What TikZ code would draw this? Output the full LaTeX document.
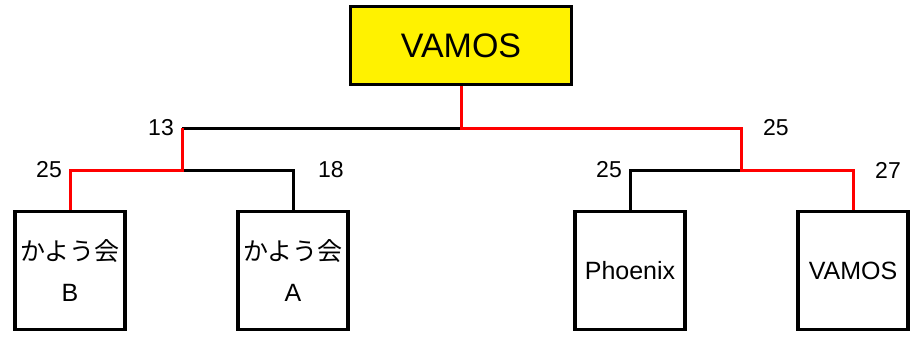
\documentclass[tikz,border=0pt]{standalone}
\usepackage{fontspec}
\setmainfont{Liberation Sans}
\newfontfamily\jpfont{Noto Sans CJK JP}
\usetikzlibrary{positioning}

\tikzset{
  team/.style={draw, line width=3.2pt, minimum width=110pt, minimum height=118pt,
               align=center, inner sep=0pt, font=\fontsize{25}{41}\selectfont},
  champ/.style={draw, fill=yellow, line width=3.2pt, minimum width=221pt, minimum height=78pt,
               inner sep=0pt, font=\fontsize{34}{40}\selectfont},
  win/.style={draw=red, line width=3pt},
  lose/.style={draw=black, line width=3pt},
  score/.style={inner sep=0pt, font=\fontsize{23}{27}\selectfont}
}

\begin{document}
\begin{tikzpicture}[x=1pt,y=-1pt]
  \useasboundingbox (0,0) rectangle (918,340);
  % boxes
  \node[champ](top) at (461,45.5) {VAMOS};
  \node[team](kyB) at (70,270.5) {{\jpfont かよう会}\\B};
  \node[team](kyA) at (293,270.5) {{\jpfont かよう会}\\A};
  \node[team](phx) at (630,270.5) {Phoenix};
  \node[team](vms) at (853,270.5) {VAMOS};
  % joints
  \coordinate (fin) at (461,128);
  \coordinate (semiL) at (182,128);
  \coordinate (semiR) at (741,128);
  \coordinate (midL) at (182,170);
  \coordinate (midR) at (741,170);
  \coordinate (qB) at (70,170);
  \coordinate (qA) at (293,170);
  \coordinate (qP) at (630,170);
  \coordinate (qV) at (853,170);
  % lines
  \draw[lose] (fin) -- (semiL);
  \draw[lose] (midL) -- (qA) -- (kyA.north);
  \draw[lose] (midR) -- (qP) -- (phx.north);
  \draw[win] (top.south) -- (fin) -- (semiR) -- (midR) -- (qV) -- (vms.north);
  \draw[win] (semiL) -- (midL) -- (qB) -- (kyB.north);
  % scores
  \node[score, left=8pt of semiL](s13) {13};
  \node[score, left=8pt of qB](s25b) {25};
  \node[score, right=25pt of qA](s18) {18};
  \node[score, right=22pt of semiR](s25v) {25};
  \node[score, left=8pt of qP](s25p) {25};
  \node[score, right=22pt of qV](s27) {27};
\end{tikzpicture}
\end{document}
